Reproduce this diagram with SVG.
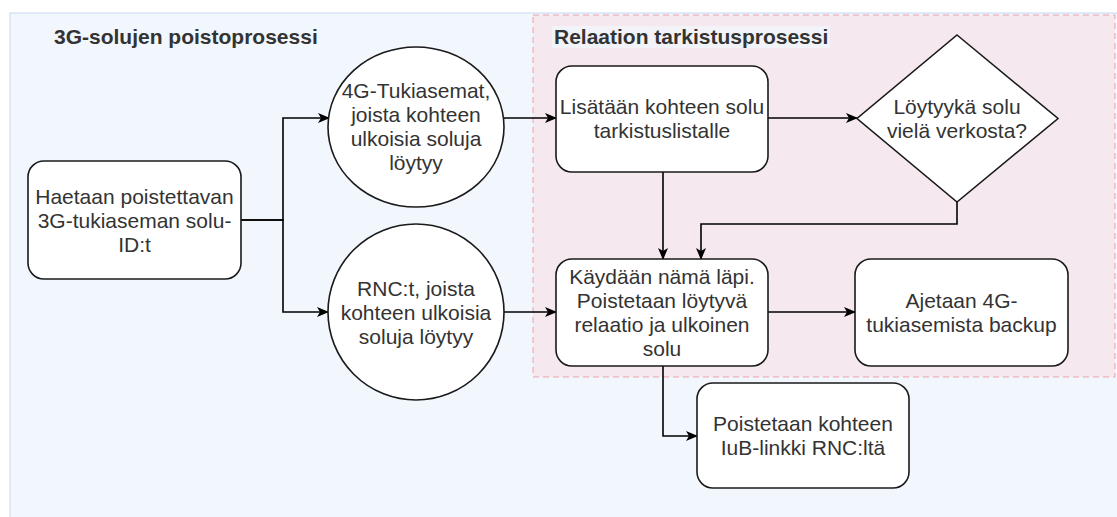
<svg xmlns="http://www.w3.org/2000/svg" width="1117" height="517" viewBox="0 0 1117 517">
  <style>
    .node { fill: #ffffff; stroke: #1a1a1a; stroke-width: 1.6; }
    .lbl { font-family: "Liberation Sans", Arial, sans-serif; font-size: 21px; fill: #333333; text-anchor: middle; }
    .title { font-family: "Liberation Sans", Arial, sans-serif; font-size: 21px; font-weight: bold; fill: #333333; }
    .edge { fill: none; stroke: #000000; stroke-width: 1.6; marker-end: url(#arrow); }
  </style>
  <defs>
    <marker id="arrow" viewBox="0 0 12 10" refX="11" refY="5" markerWidth="12" markerHeight="10" markerUnits="userSpaceOnUse" orient="auto">
      <path d="M0,0 L12,5 L0,10 L3,5 z" fill="#000000"/>
    </marker>
  </defs>
  <rect width="1117" height="517" fill="#ffffff"/>
  <g id="container-3g">
    <rect x="10" y="13" width="1120" height="520" fill="#f2f6fd" stroke="#d0def3" stroke-width="1.2"/>
    <text class="title" x="54" y="44">3G-solujen poistoprosessi</text>
  </g>
  <g id="container-relaatio">
    <rect x="533" y="15" width="582" height="362" fill="#f5e8ef" stroke="#e9a3aa" stroke-width="1" stroke-dasharray="6 4"/>
    <rect x="552" y="26" width="278" height="22" fill="#f1f3f9"/>
    <text class="title" x="554" y="44">Relaation tarkistusprosessi</text>
  </g>
  <g id="connectors">
    <path class="edge" d="M241,220 H283 V118 H329"/>
    <path class="edge" d="M241,220 H283 V312 H328"/>
    <path class="edge" d="M503,118 H556"/>
    <path class="edge" d="M504,312 H556"/>
    <path class="edge" d="M768,118 H857"/>
    <path class="edge" d="M663,172 V259"/>
    <path class="edge" d="M957,202 V224 H701 V259"/>
    <path class="edge" d="M768,312 H855"/>
    <path class="edge" d="M663,366 V436 H697"/>
  </g>
  <g id="node-haetaan">
    <rect class="node" x="28" y="161" width="213" height="118" rx="16"/>
    <text class="lbl" x="134.5" y="204">Haetaan poistettavan</text>
    <text class="lbl" x="134.5" y="228">3G-tukiaseman solu-</text>
    <text class="lbl" x="134.5" y="252">ID:t</text>
  </g>
  <g id="node-4g">
    <ellipse class="node" cx="416" cy="127" rx="88" ry="80"/>
    <text class="lbl" x="416" y="98">4G-Tukiasemat,</text>
    <text class="lbl" x="416" y="122">joista kohteen</text>
    <text class="lbl" x="416" y="146">ulkoisia soluja</text>
    <text class="lbl" x="416" y="170">löytyy</text>
  </g>
  <g id="node-rnc">
    <circle class="node" cx="416" cy="312" r="88"/>
    <text class="lbl" x="416" y="296">RNC:t, joista</text>
    <text class="lbl" x="416" y="320">kohteen ulkoisia</text>
    <text class="lbl" x="416" y="344">soluja löytyy</text>
  </g>
  <g id="node-lisataan">
    <rect class="node" x="556" y="66" width="212" height="106" rx="16"/>
    <text class="lbl" x="662" y="114">Lisätään kohteen solu</text>
    <text class="lbl" x="662" y="138">tarkistuslistalle</text>
  </g>
  <g id="node-loytyyka">
    <polygon class="node" points="957,35 1058,118.5 957,202 857,118.5"/>
    <text class="lbl" x="957" y="114">Löytyykä solu</text>
    <text class="lbl" x="957" y="138">vielä verkosta?</text>
  </g>
  <g id="node-kaydaan">
    <rect class="node" x="556" y="259" width="212" height="107" rx="16"/>
    <text class="lbl" x="662" y="284">Käydään nämä läpi.</text>
    <text class="lbl" x="662" y="308">Poistetaan löytyvä</text>
    <text class="lbl" x="662" y="332">relaatio ja ulkoinen</text>
    <text class="lbl" x="662" y="356">solu</text>
  </g>
  <g id="node-ajetaan">
    <rect class="node" x="855" y="259" width="213" height="107" rx="16"/>
    <text class="lbl" x="961.5" y="308">Ajetaan 4G-</text>
    <text class="lbl" x="961.5" y="332">tukiasemista backup</text>
  </g>
  <g id="node-poistetaan">
    <rect class="node" x="697" y="383" width="212" height="105" rx="16"/>
    <text class="lbl" x="803" y="431">Poistetaan kohteen</text>
    <text class="lbl" x="803" y="455">IuB-linkki RNC:ltä</text>
  </g>
</svg>
